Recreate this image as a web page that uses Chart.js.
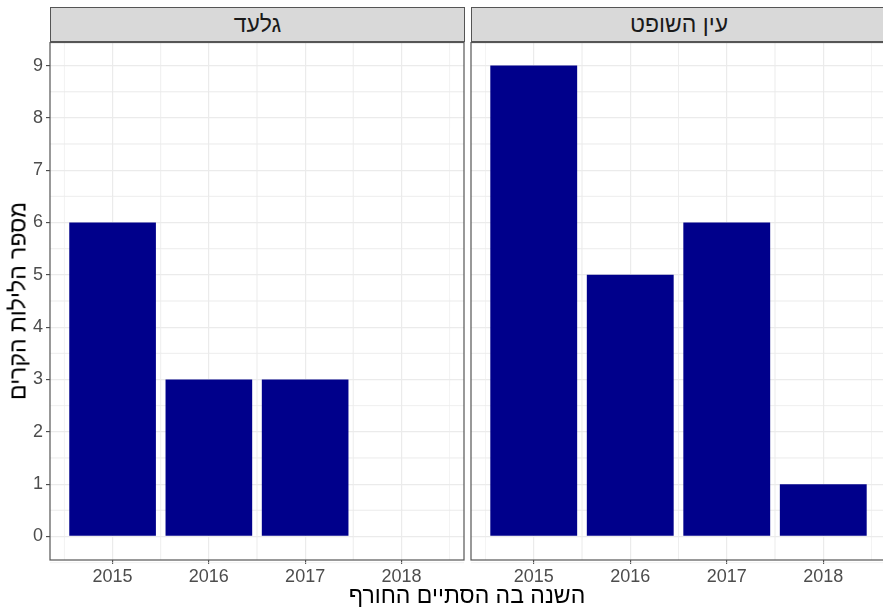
<!DOCTYPE html>
<html>
<head>
<meta charset="utf-8">
<script src="https://cdn.jsdelivr.net/npm/chart.js@4.4.1/dist/chart.umd.min.js"></script>
<style>
  body { margin: 0; background: #fff; font-family: "Liberation Sans", Arial, sans-serif; overflow: hidden; }
  #wrap { position: relative; width: 883px; height: 610px; overflow: hidden; }
  .strip {
    position: absolute; top: 7px; height: 35px; box-sizing: border-box;
    background: #D9D9D9; border: 1px solid #555;
    font-size: 23px; color: #1A1A1A; text-align: center; line-height: 33px; direction: rtl;
  }
  .panel { position: absolute; top: 42px; height: 550px; }
  #xTitle { position: absolute; left: 50px; width: 834px; top: 582px; text-align: center; font-size: 23px; color: #000; direction: rtl; }
  #yTitle { position: absolute; left: 18px; top: 301px; transform: translate(-50%, -50%) rotate(-90deg); white-space: nowrap; font-size: 23px; color: #000; direction: rtl; }
</style>
</head>
<body>
<div id="wrap">
  <div class="strip" id="strip0" style="left:50px;width:415px;"></div>
  <div class="strip" id="strip1" style="left:471px;width:416px;"></div>
  <div class="panel" style="left:0;width:466px;"><canvas id="panel0"></canvas></div>
  <div class="panel" style="left:466px;width:420px;"><canvas id="panel1"></canvas></div>
  <div id="xTitle"></div>
  <div id="yTitle"></div>
</div>
<script>
// data
const years = [2015, 2016, 2017, 2018];
const panelNames = ['גלעד', 'עין השופט'];
const giladNights = [6, 3, 3, null];
const einHashofetNights = [9, 5, 6, 1];
const yTickValues = [0, 1, 2, 3, 4, 5, 6, 7, 8, 9];
const xAxisTitle = 'השנה בה הסתיים החורף';
const yAxisTitle = 'מספר הלילות הקרים';

document.getElementById('strip0').textContent = panelNames[0];
document.getElementById('strip1').textContent = panelNames[1];
document.getElementById('xTitle').textContent = xAxisTitle;
document.getElementById('yTitle').textContent = yAxisTitle;

Chart.defaults.font.family = '"Liberation Sans", Arial, sans-serif';

// minor grid lines halfway between the major ones (ggplot style) + panel frame
const panelDecor = {
  id: 'panelDecor',
  beforeDatasetsDraw(chart) {
    const a = chart.chartArea, c = chart.ctx;
    const xs = chart.scales.x, ys = chart.scales.y;
    c.save();
    c.strokeStyle = '#EBEBEB';
    c.lineWidth = 0.6;
    c.beginPath();
    years.forEach(v => {
      [v - 0.5, v + 0.5].forEach(m => {
        const px = xs.getPixelForValue(m);
        c.moveTo(px, a.top); c.lineTo(px, a.bottom);
      });
    });
    yTickValues.forEach(v => {
      [v - 0.5, v + 0.5].forEach(m => {
        const py = ys.getPixelForValue(m);
        c.moveTo(a.left, py); c.lineTo(a.right, py);
      });
    });
    c.stroke();
    c.restore();
  },
  afterDraw(chart) {
    const a = chart.chartArea, c = chart.ctx;
    c.save();
    c.strokeStyle = '#555';
    c.lineWidth = 1.2;
    c.strokeRect(a.left, a.top + 0.5, a.right - a.left, a.bottom - a.top - 0.5);
    c.restore();
  }
};

function makePanel(id, values, showY) {
  const points = [];
  years.forEach((y, i) => { if (values[i] !== null) points.push({x: y, y: values[i]}); });
  return new Chart(document.getElementById(id), {
    type: 'bar',
    data: {
      datasets: [{
        data: points,
        backgroundColor: '#00008B',
        borderWidth: 0,
        barPercentage: 0.9,
        categoryPercentage: 1
      }]
    },
    options: {
      responsive: true,
      maintainAspectRatio: false,
      animation: false,
      layout: { padding: { top: 0, right: showY ? 2 : 0, left: 0, bottom: 0 } },
      plugins: { legend: { display: false }, tooltip: { enabled: false } },
      scales: {
        x: {
          type: 'linear',
          offset: false,
          min: years[0] - 0.65,
          max: years[years.length - 1] + 0.65,
          afterBuildTicks: axis => { axis.ticks = years.map(v => ({value: v})); },
          afterFit: axis => { axis.height = 32; axis.paddingLeft = 0; axis.paddingRight = 0; },
          border: { display: false },
          grid: { offset: false, color: '#EBEBEB', lineWidth: 1.2, tickColor: '#444', tickLength: 4, tickWidth: 1.1 },
          ticks: {
            autoSkip: false, maxRotation: 0, padding: 2,
            color: '#4D4D4D', font: { size: 18 },
            callback: v => String(v)
          }
        },
        y: {
          min: -0.45,
          max: 9.45,
          afterBuildTicks: axis => { axis.ticks = yTickValues.map(v => ({value: v})); },
          afterFit: axis => { axis.width = showY ? 50 : 5; axis.paddingTop = 0; axis.paddingBottom = 0; },
          border: { display: false },
          grid: { color: '#EBEBEB', lineWidth: 1.2, tickColor: '#444', tickLength: 4, tickWidth: 1.1, drawTicks: showY },
          ticks: {
            display: showY, autoSkip: false, padding: 3,
            color: '#4D4D4D', font: { size: 18 }
          }
        }
      }
    },
    plugins: [panelDecor]
  });
}

makePanel('panel0', giladNights, true);
makePanel('panel1', einHashofetNights, false);
</script>
</body>
</html>
